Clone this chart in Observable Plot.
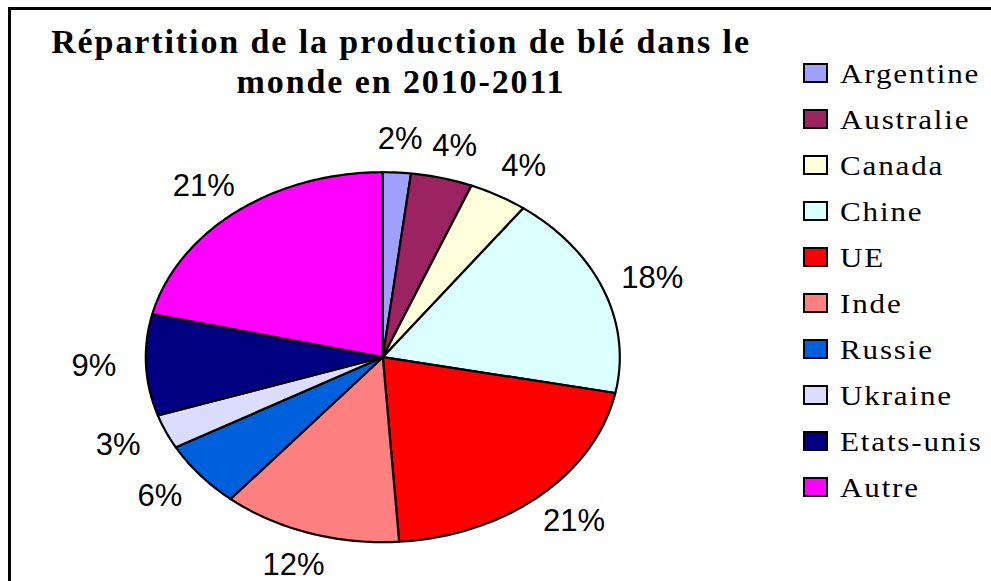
<!DOCTYPE html>
<html>
<head>
<meta charset="utf-8">
<script src="https://cdn.jsdelivr.net/npm/d3@7"></script>
<script src="https://cdn.jsdelivr.net/npm/@observablehq/plot@0.6"></script>
<style>
  html, body { margin: 0; padding: 0; background: #fff; overflow: hidden; }
  #wrap { position: relative; width: 991px; height: 581px; overflow: hidden; background: #fff; }
  #frame { position: absolute; left: 8px; top: 7px; width: 1200px; height: 800px; border: 3px solid #000; }
  #chart { position: absolute; left: 0; top: 0; }
  #title { position: absolute; left: 1px; width: 800px; top: 21.5px; text-align: center; white-space: nowrap;
           font-family: "Liberation Serif", "Times New Roman", serif; font-weight: bold;
           font-size: 34px; line-height: 40px; letter-spacing: 1.9px; color: #000; }
  .leg { position: absolute; left: 803px; height: 46px; line-height: 46px; white-space: nowrap;
         font-family: "Liberation Serif", "Times New Roman", serif; font-size: 27px; color: #000; }
  .sw { position: absolute; left: 0; top: 12px; width: 25px; height: 20px; box-sizing: border-box; border: 2.5px solid #000; }
  .lt { position: absolute; left: 37px; top: 0; letter-spacing: 1.6px; transform: scaleX(1.15); transform-origin: 0 50%; }
</style>
</head>
<body>
<div id="wrap">
  <div id="frame"></div>
  <div id="chart"></div>
  <div id="title">Répartition de la production de blé dans le<br>monde en 2010-2011</div>
  <div id="legend"></div>
</div>
<script>
// Data
const categories = ["Argentine", "Australie", "Canada", "Chine", "UE", "Inde", "Russie", "Ukraine", "Etats-unis", "Autre"];
const shares = [1.9, 4.2, 4.0, 18.0, 20.8, 12.2, 5.8, 3.0, 8.85, 21.25];
const palette = ["#A0A0FF", "#9B2361", "#FFFFDC", "#DCFFFF", "#FF0000", "#FF8080", "#0060DC", "#DCDCFF", "#000080", "#FF00FF"];

// Layout
const cx = 382.3, cy = 356.7, rx = 237, ry = 185;

const arcs = d3.pie().sort(null).value(d => d)(shares);
const pts = [];
arcs.forEach((p, i) => {
  const name = categories[i];
  const n = Math.max(2, Math.ceil((p.endAngle - p.startAngle) / (Math.PI / 180)));
  pts.push({name, x: 0, y: 0});
  for (let k = 0; k <= n; k++) {
    const a = p.startAngle + (p.endAngle - p.startAngle) * k / n;
    pts.push({name, x: Math.sin(a), y: Math.cos(a)});
  }
  pts.push({name, x: 0, y: 0});
});
const fmt = d3.format(".0%");
const labs = arcs.map((p, i) => {
  const a = (p.startAngle + p.endAngle) / 2;
  return {x: 1.22 * Math.sin(a), y: 1.18 * Math.cos(a), text: fmt(shares[i] / 100)};
});

const svg = Plot.plot({
  width: 991,
  height: 581,
  style: {background: "transparent"},
  x: {domain: [-1, 1], range: [cx - rx, cx + rx], axis: null},
  y: {domain: [-1, 1], range: [cy + ry, cy - ry], axis: null},
  color: {domain: categories, range: palette},
  marks: [
    Plot.line(pts, {x: "x", y: "y", z: "name", fill: "name", stroke: "black", strokeWidth: 2.2, strokeLinejoin: "round"}),
    Plot.text(labs, {x: "x", y: "y", text: "text", fontSize: 31, fontFamily: "Liberation Sans, Arial, sans-serif", fill: "black", ariaLabel: "pct"})
  ]
});
svg.querySelectorAll('g[aria-label="pct"] text').forEach(t => t.style.letterSpacing = "2px");
document.getElementById("chart").appendChild(svg);

// Legend
const legend = document.getElementById("legend");
categories.forEach((c, i) => {
  const row = document.createElement("div");
  row.className = "leg";
  row.style.top = (51 + 46 * i) + "px";
  const sw = document.createElement("div");
  sw.className = "sw";
  sw.style.background = palette[i];
  const lt = document.createElement("span");
  lt.className = "lt";
  lt.textContent = c;
  row.appendChild(sw);
  row.appendChild(lt);
  legend.appendChild(row);
});
</script>
</body>
</html>
